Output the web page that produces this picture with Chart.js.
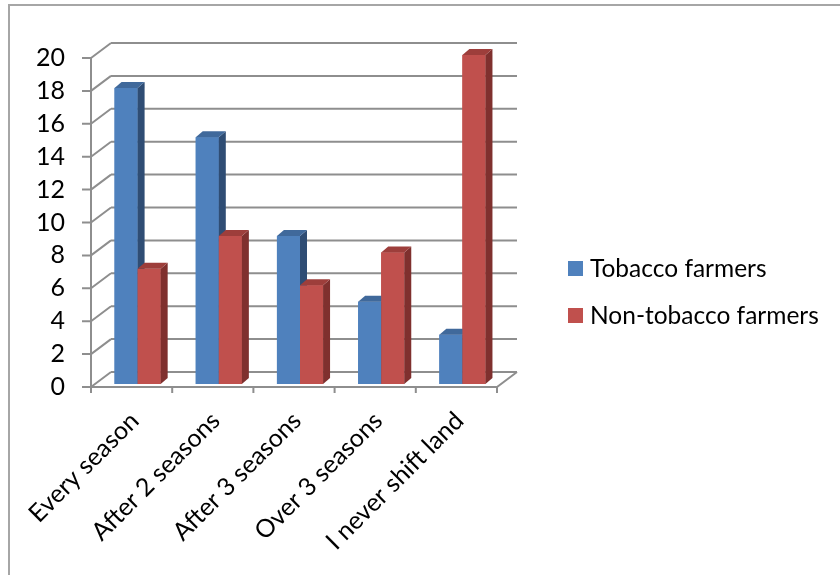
<!DOCTYPE html>
<html>
<head>
<meta charset="utf-8">
<script src="https://cdn.jsdelivr.net/npm/chart.js@4/dist/chart.umd.min.js"></script>
<style>
  html, body { margin: 0; padding: 0; background: #ffffff; }
  #wrap { position: relative; width: 840px; height: 575px; }
</style>
</head>
<body>
<div id="wrap"><canvas id="c" width="840" height="575"></canvas></div>
<script>
const categories = ['Every season', 'After 2 seasons', 'After 3 seasons', 'Over 3 seasons', 'I never shift land'];
const tobaccoFarmers = [18, 15, 9, 5, 3];
const nonTobaccoFarmers = [7, 9, 6, 8, 20];
const seriesNames = ['Tobacco farmers', 'Non-tobacco farmers'];
const yTicks = [0, 2, 4, 6, 8, 10, 12, 14, 16, 18, 20];

const FONT = 'Lato';
const FS = 25;
const GRID = '#8e8e8e';
const WALL_DX = 20, WALL_DY = -15;
const BAR_DX = 7, BAR_DY = -6;
const BAR_SHIFT_X = 6, BAR_SHIFT_Y = -3;
const faces = [
  { front: '#4F81BD', top: '#40699B', side: '#2F4D74' },
  { front: '#C0504D', top: '#9D3E3B', side: '#7F302E' }
];

const threeD = {
  id: 'threeD',
  beforeDatasetsDraw(chart) {
    const ctx = chart.ctx;
    const ys = chart.scales.y;
    const L = chart.chartArea.left, R = chart.chartArea.right, B = chart.chartArea.bottom;
    ctx.save();
    // outer frame
    ctx.strokeStyle = '#a6a6a6';
    ctx.lineWidth = 2;
    ctx.beginPath();
    ctx.moveTo(9, 575); ctx.lineTo(9, 5); ctx.lineTo(840, 5);
    ctx.stroke();

    ctx.strokeStyle = GRID;
    ctx.lineWidth = 2;
    ctx.beginPath();
    yTicks.forEach(v => {
      const y = ys.getPixelForValue(v);
      ctx.moveTo(L + WALL_DX, y + WALL_DY);
      ctx.lineTo(R + WALL_DX, y + WALL_DY);
      ctx.moveTo(L, y);
      ctx.lineTo(L + WALL_DX, y + WALL_DY);
      ctx.moveTo(L - 9, y);
      ctx.lineTo(L, y);
    });
    ctx.moveTo(L, ys.getPixelForValue(20));
    ctx.lineTo(L, B);
    ctx.moveTo(L, B);
    ctx.lineTo(R, B);
    ctx.lineTo(R + WALL_DX, B + WALL_DY);
    const n = categories.length;
    for (let i = 0; i <= n; i++) {
      const x = L + (R - L) * i / n;
      ctx.moveTo(x, B);
      ctx.lineTo(x, B + 6);
    }
    ctx.stroke();
    ctx.restore();

    // legend
    ctx.save();
    ctx.font = '24.5px ' + FONT;
    ctx.textBaseline = 'middle';
    ctx.textAlign = 'left';
    const legendY = [268, 315];
    chart.data.datasets.forEach((ds, i) => {
      ctx.fillStyle = ds.backgroundColor;
      ctx.fillRect(568, legendY[i] - 7, 15, 15);
      ctx.fillStyle = '#000000';
      ctx.fillText(ds.label, 590, legendY[i] + 1);
    });
    ctx.restore();

    ctx.save();
    ctx.translate(BAR_SHIFT_X, BAR_SHIFT_Y);
  },
  afterDatasetsDraw(chart) {
    const ctx = chart.ctx;
    chart.data.datasets.forEach((ds, i) => {
      const f = faces[i];
      chart.getDatasetMeta(i).data.forEach(bar => {
        const p = bar.getProps(['x', 'y', 'base', 'width'], true);
        const l = p.x - p.width / 2, r = p.x + p.width / 2;
        const t = p.y, b = p.base;
        ctx.fillStyle = f.front;
        ctx.fillRect(l, t, r - l, b - t);
        ctx.fillStyle = f.side;
        ctx.beginPath();
        ctx.moveTo(r, t); ctx.lineTo(r + BAR_DX, t + BAR_DY);
        ctx.lineTo(r + BAR_DX, b + BAR_DY); ctx.lineTo(r, b);
        ctx.closePath(); ctx.fill();
        ctx.fillStyle = f.top;
        ctx.beginPath();
        ctx.moveTo(l, t); ctx.lineTo(l + BAR_DX, t + BAR_DY);
        ctx.lineTo(r + BAR_DX, t + BAR_DY); ctx.lineTo(r, t);
        ctx.closePath(); ctx.fill();
      });
    });
    ctx.restore();
  }
};

new Chart(document.getElementById('c'), {
  type: 'bar',
  data: {
    labels: categories,
    datasets: [
      { label: seriesNames[0], data: tobaccoFarmers, backgroundColor: faces[0].front, clip: false },
      { label: seriesNames[1], data: nonTobaccoFarmers, backgroundColor: faces[1].front, clip: false }
    ]
  },
  options: {
    responsive: false,
    animation: false,
    devicePixelRatio: 1,
    categoryPercentage: 0.568,
    barPercentage: 1.0,
    layout: { padding: { left: 0, top: 58, right: 343, bottom: 0 } },
    plugins: { legend: { display: false }, tooltip: { enabled: false } },
    scales: {
      x: {
        grid: { display: false, drawTicks: false, tickLength: 0 },
        border: { display: false },
        ticks: {
          autoSkip: false, minRotation: 45, maxRotation: 45,
          padding: 19, labelOffset: 3,
          color: '#000000', font: { family: FONT, size: FS }
        },
        afterFit(s) { s.height = 188; }
      },
      y: {
        min: 0, max: 20,
        grid: { display: false, drawTicks: false, tickLength: 0 },
        border: { display: false },
        ticks: {
          stepSize: 2, padding: 26, autoSkip: false,
          color: '#000000', font: { family: FONT, size: FS }
        },
        afterFit(s) { s.width = 91; }
      }
    }
  },
  plugins: [threeD]
});
</script>
</body>
</html>
